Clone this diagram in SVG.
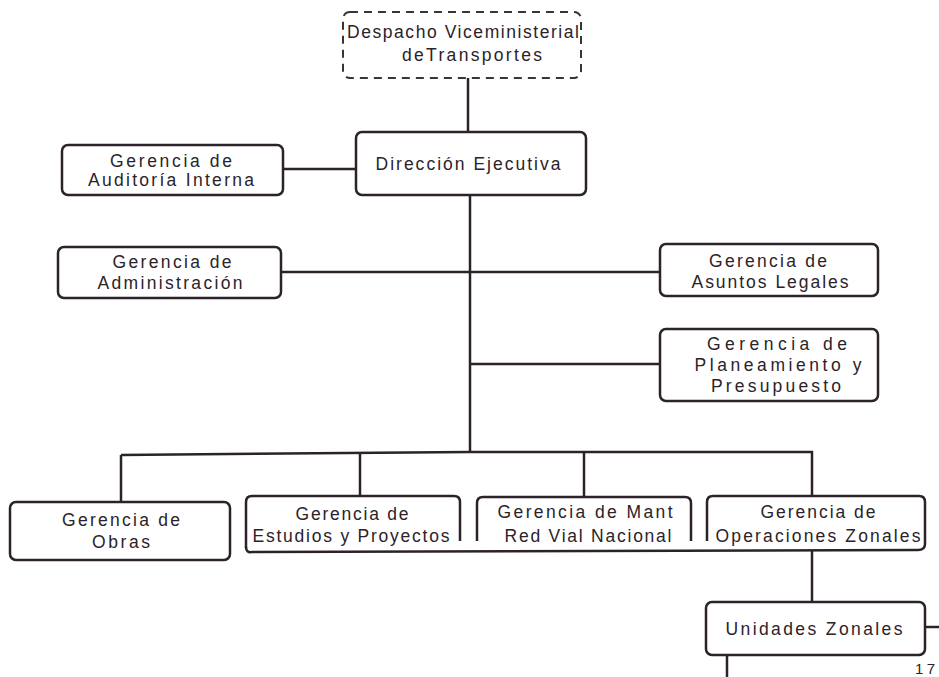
<svg xmlns="http://www.w3.org/2000/svg" width="939" height="677" viewBox="0 0 939 677">
<style>
.b{fill:#fff;stroke:#2b2329;stroke-width:2.5}
.o{fill:none;stroke:#2b2329;stroke-width:2.5}
.d{fill:#fff;stroke:#3a3338;stroke-width:2;stroke-dasharray:8 6}
.l{fill:none;stroke:#2b2329;stroke-width:2.5}
text{font-family:"Liberation Sans",Arial,sans-serif;font-size:17.5px;fill:#2b2329;text-anchor:middle}
</style>
<rect width="939" height="677" fill="#fff"/>
<g id="connectors">
<path class="l" d="M468 78V132"/>
<path class="l" d="M283 169H356"/>
<path class="l" d="M470 195V453"/>
<path class="l" d="M281 272H660"/>
<path class="l" d="M470 364H660"/>
<path class="l" d="M121 455L470 452H812V496"/>
<path class="l" d="M121 455V502"/>
<path class="l" d="M360 454V497"/>
<path class="l" d="M584 452V497"/>
<path class="l" d="M812 550V603"/>
<path class="l" d="M925 627H939"/>
<path class="l" d="M727 655V677"/>
</g>
<g id="despacho">
<rect class="d" x="343" y="12" width="238" height="66" rx="7"/>
<text x="463" y="38" textLength="232" lengthAdjust="spacing">Despacho Viceministerial</text>
<text x="472" y="61" textLength="140" lengthAdjust="spacing">deTransportes</text>
</g>
<g id="direccion">
<rect class="b" x="356" y="132" width="230" height="63" rx="6"/>
<text x="468" y="170" textLength="185" lengthAdjust="spacing">Dirección Ejecutiva</text>
</g>
<g id="auditoria">
<rect class="b" x="62" y="145" width="221" height="50" rx="6"/>
<text x="171" y="167" textLength="122" lengthAdjust="spacing">Gerencia de</text>
<text x="171" y="186" textLength="166" lengthAdjust="spacing">Auditoría Interna</text>
</g>
<g id="administracion">
<rect class="b" x="58" y="247" width="223" height="51" rx="6"/>
<text x="172" y="268" textLength="119" lengthAdjust="spacing">Gerencia de</text>
<text x="170" y="289" textLength="145" lengthAdjust="spacing">Administración</text>
</g>
<g id="asuntos">
<rect class="b" x="660" y="244" width="218" height="52" rx="6"/>
<text x="768" y="267" textLength="118" lengthAdjust="spacing">Gerencia de</text>
<text x="770" y="288" textLength="157" lengthAdjust="spacing">Asuntos Legales</text>
</g>
<g id="planeamiento">
<rect class="b" x="660" y="329" width="218" height="72" rx="6"/>
<text x="777" y="350" textLength="140" lengthAdjust="spacing">Gerencia de</text>
<text x="778" y="371" textLength="167" lengthAdjust="spacing">Planeamiento y</text>
<text x="776" y="392" textLength="130" lengthAdjust="spacing">Presupuesto</text>
</g>
<g id="obras">
<rect class="b" x="10" y="502" width="220" height="58" rx="6"/>
<text x="121" y="526" textLength="118" lengthAdjust="spacing">Gerencia de</text>
<text x="121" y="548" textLength="58" lengthAdjust="spacing">Obras</text>
</g>
<g id="estudios">
<path class="o" d="M246 548V502Q246 496 252 496H454Q460 496 460 502V541"/>
<text x="352" y="520" textLength="113" lengthAdjust="spacing">Gerencia de</text>
<text x="351" y="542" textLength="197" lengthAdjust="spacing">Estudios y Proyectos</text>
</g>
<g id="mant">
<path class="o" d="M477 541V503Q477 497 483 497H685Q691 497 691 503V541"/>
<text x="585" y="518" textLength="175" lengthAdjust="spacing">Gerencia de Mant</text>
<text x="588" y="542" textLength="167" lengthAdjust="spacing">Red Vial Nacional</text>
</g>
<g id="operaciones">
<path class="o" d="M707 541V502Q707 496 713 496H919Q925 496 925 502V544"/>
<path class="o" d="M246 547Q246 553 252 552L918 550Q925 550 925 544"/>
<text x="818" y="518" textLength="115" lengthAdjust="spacing">Gerencia de</text>
<text x="818" y="542" textLength="205" lengthAdjust="spacing">Operaciones Zonales</text>
</g>
<g id="unidades">
<rect class="b" x="706" y="602" width="219" height="53" rx="6"/>
<text x="814" y="635" textLength="177" lengthAdjust="spacing">Unidades Zonales</text>
</g>
<text x="925" y="674" style="font-size:15px" textLength="20" lengthAdjust="spacing">17</text>
</svg>
